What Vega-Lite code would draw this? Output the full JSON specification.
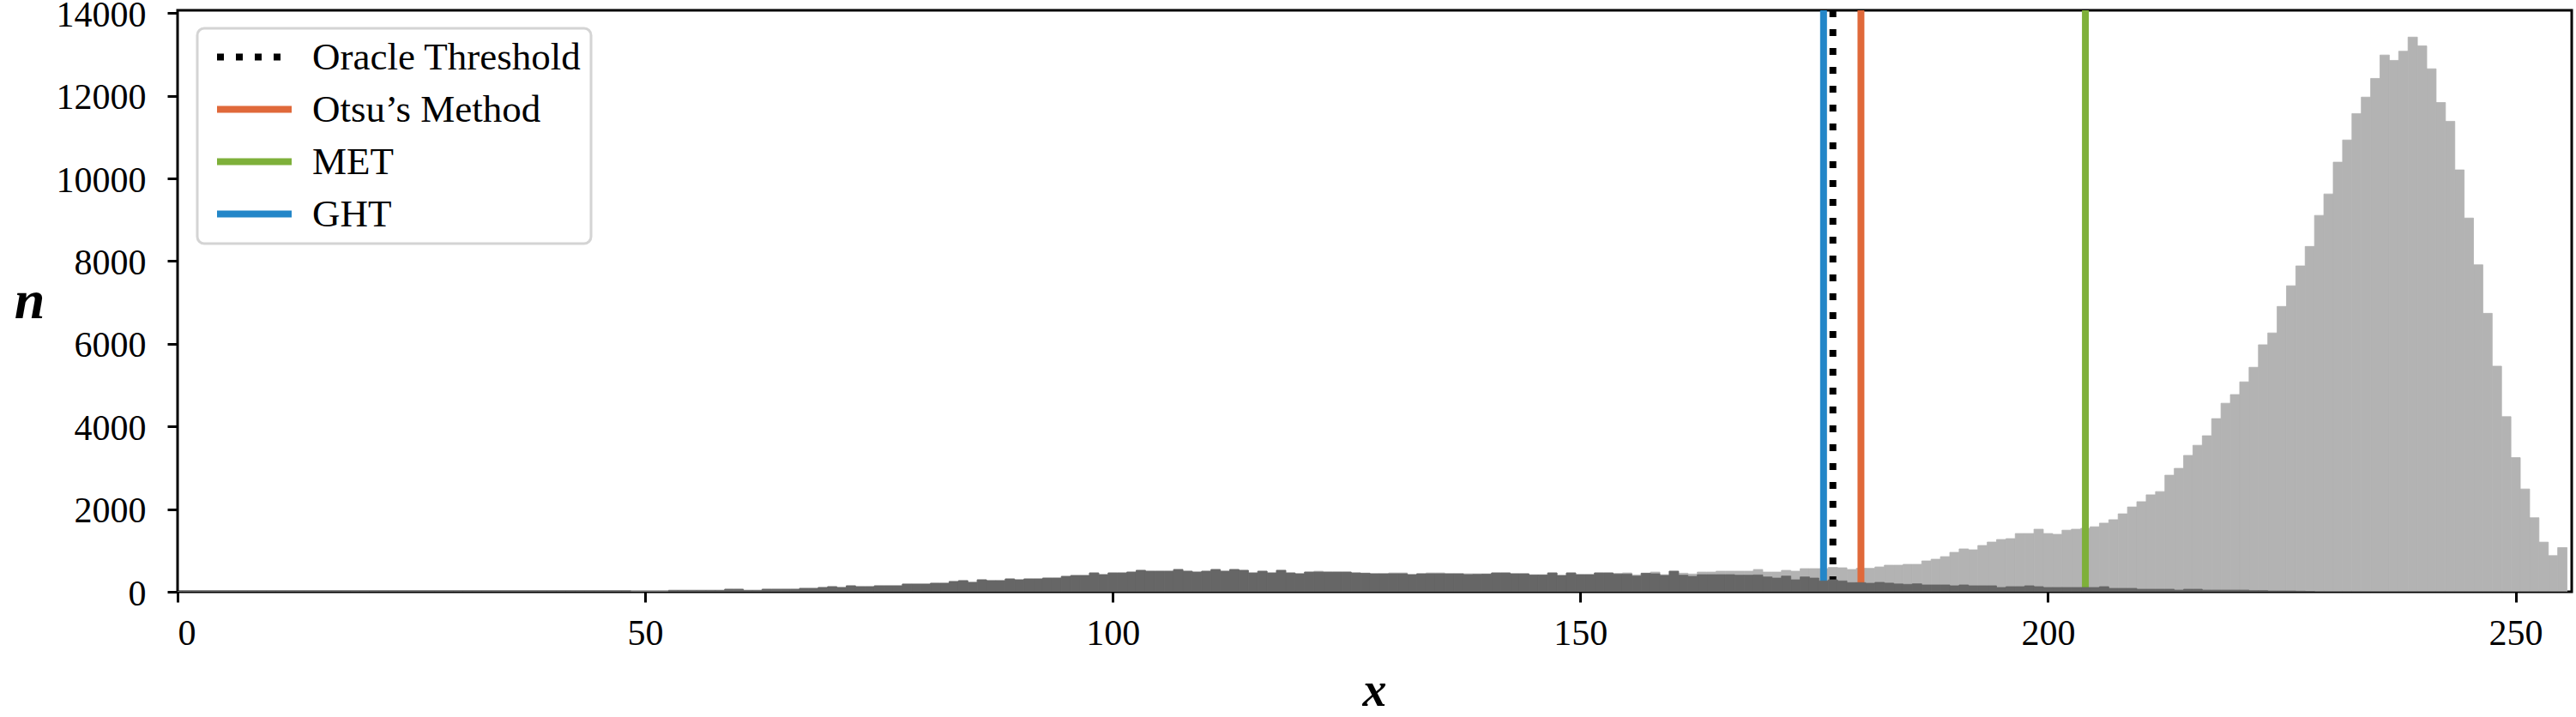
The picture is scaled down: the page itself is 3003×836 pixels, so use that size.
{
  "$schema": "https://vega.github.io/schema/vega-lite/v6.json",
  "width": 2791,
  "height": 678,
  "autosize": {"type": "none"},
  "padding": {"left": 207, "top": 12, "right": 5, "bottom": 146},
  "background": "white",
  "config": {
    "view": {"stroke": "black", "strokeWidth": 3},
    "font": "Liberation Serif",
    "axis": {
      "grid": false,
      "domain": false,
      "tickColor": "black",
      "tickWidth": 3,
      "tickSize": 12,
      "labelFont": "Liberation Serif",
      "labelFontSize": 42,
      "labelColor": "black",
      "titleFont": "Liberation Serif",
      "titleFontStyle": "italic",
      "titleFontWeight": "bold",
      "titleFontSize": 64,
      "titleColor": "black"
    },
    "legend": {
      "orient": "none",
      "legendX": 23,
      "legendY": 21,
      "symbolType": "M-2.9,0H2.9",
      "symbolSize": 900,
      "symbolStrokeWidth": 8,
      "symbolOffset": 33,
      "labelFont": "Liberation Serif",
      "labelFontSize": 45,
      "labelColor": "black",
      "labelOffset": 45,
      "labelLimit": 0,
      "fillColor": "white",
      "strokeColor": "#d4d4d4",
      "strokeWidth": 3,
      "cornerRadius": 8,
      "padding": 11,
      "rowPadding": 15
    }
  },
  "datasets": {
    "hist": [
      {"x":0,"light":0,"dark":0},{"x":1,"light":0,"dark":0},{"x":2,"light":0,"dark":0},{"x":3,"light":0,"dark":0},{"x":4,"light":0,"dark":0},{"x":5,"light":0,"dark":0},{"x":6,"light":0,"dark":0},{"x":7,"light":0,"dark":0},{"x":8,"light":0,"dark":0},{"x":9,"light":0,"dark":0},
      {"x":10,"light":0,"dark":0},{"x":11,"light":0,"dark":0},{"x":12,"light":0,"dark":0},{"x":13,"light":0,"dark":0},{"x":14,"light":0,"dark":0},{"x":15,"light":0,"dark":0},{"x":16,"light":0,"dark":0},{"x":17,"light":0,"dark":0},{"x":18,"light":0,"dark":0},{"x":19,"light":0,"dark":0},
      {"x":20,"light":0,"dark":0},{"x":21,"light":0,"dark":0},{"x":22,"light":0,"dark":0},{"x":23,"light":0,"dark":0},{"x":24,"light":0,"dark":0},{"x":25,"light":0,"dark":0},{"x":26,"light":0,"dark":0},{"x":27,"light":0,"dark":0},{"x":28,"light":0,"dark":0},{"x":29,"light":0,"dark":0},
      {"x":30,"light":0,"dark":0},{"x":31,"light":0,"dark":0},{"x":32,"light":0,"dark":0},{"x":33,"light":0,"dark":0},{"x":34,"light":0,"dark":0},{"x":35,"light":0,"dark":0},{"x":36,"light":0,"dark":0},{"x":37,"light":0,"dark":0},{"x":38,"light":0,"dark":0},{"x":39,"light":0,"dark":0},
      {"x":40,"light":0,"dark":0},{"x":41,"light":0,"dark":0},{"x":42,"light":0,"dark":0},{"x":43,"light":0,"dark":0},{"x":44,"light":0,"dark":0},{"x":45,"light":0,"dark":0},{"x":46,"light":0,"dark":0},{"x":47,"light":0,"dark":0},{"x":48,"light":0,"dark":0},{"x":49,"light":28,"dark":0},
      {"x":50,"light":28,"dark":0},{"x":51,"light":28,"dark":0},{"x":52,"light":28,"dark":0},{"x":53,"light":35,"dark":35},{"x":54,"light":35,"dark":35},{"x":55,"light":35,"dark":35},{"x":56,"light":35,"dark":35},{"x":57,"light":35,"dark":35},{"x":58,"light":35,"dark":35},{"x":59,"light":62,"dark":62},
      {"x":60,"light":62,"dark":62},{"x":61,"light":35,"dark":35},{"x":62,"light":35,"dark":35},{"x":63,"light":62,"dark":62},{"x":64,"light":62,"dark":62},{"x":65,"light":62,"dark":62},{"x":66,"light":62,"dark":62},{"x":67,"light":83,"dark":83},{"x":68,"light":83,"dark":83},{"x":69,"light":104,"dark":104},
      {"x":70,"light":124,"dark":124},{"x":71,"light":104,"dark":104},{"x":72,"light":145,"dark":145},{"x":73,"light":124,"dark":124},{"x":74,"light":124,"dark":124},{"x":75,"light":145,"dark":145},{"x":76,"light":145,"dark":145},{"x":77,"light":145,"dark":145},{"x":78,"light":187,"dark":187},{"x":79,"light":187,"dark":187},
      {"x":80,"light":187,"dark":187},{"x":81,"light":207,"dark":207},{"x":82,"light":207,"dark":207},{"x":83,"light":249,"dark":249},{"x":84,"light":270,"dark":270},{"x":85,"light":228,"dark":228},{"x":86,"light":290,"dark":290},{"x":87,"light":270,"dark":270},{"x":88,"light":270,"dark":270},{"x":89,"light":311,"dark":311},
      {"x":90,"light":290,"dark":290},{"x":91,"light":311,"dark":311},{"x":92,"light":311,"dark":311},{"x":93,"light":332,"dark":332},{"x":94,"light":332,"dark":332},{"x":95,"light":373,"dark":373},{"x":96,"light":394,"dark":394},{"x":97,"light":394,"dark":394},{"x":98,"light":456,"dark":456},{"x":99,"light":415,"dark":415},
      {"x":100,"light":456,"dark":456},{"x":101,"light":456,"dark":456},{"x":102,"light":477,"dark":477},{"x":103,"light":519,"dark":519},{"x":104,"light":498,"dark":498},{"x":105,"light":498,"dark":498},{"x":106,"light":498,"dark":498},{"x":107,"light":539,"dark":539},{"x":108,"light":498,"dark":498},{"x":109,"light":477,"dark":477},
      {"x":110,"light":498,"dark":498},{"x":111,"light":539,"dark":539},{"x":112,"light":498,"dark":498},{"x":113,"light":539,"dark":539},{"x":114,"light":519,"dark":519},{"x":115,"light":456,"dark":456},{"x":116,"light":498,"dark":498},{"x":117,"light":456,"dark":456},{"x":118,"light":519,"dark":519},{"x":119,"light":456,"dark":456},
      {"x":120,"light":436,"dark":436},{"x":121,"light":477,"dark":477},{"x":122,"light":498,"dark":477},{"x":123,"light":477,"dark":477},{"x":124,"light":477,"dark":477},{"x":125,"light":477,"dark":477},{"x":126,"light":456,"dark":456},{"x":127,"light":449,"dark":449},{"x":128,"light":436,"dark":436},{"x":129,"light":436,"dark":436},
      {"x":130,"light":456,"dark":436},{"x":131,"light":456,"dark":436},{"x":132,"light":415,"dark":415},{"x":133,"light":436,"dark":436},{"x":134,"light":456,"dark":436},{"x":135,"light":456,"dark":436},{"x":136,"light":436,"dark":436},{"x":137,"light":436,"dark":436},{"x":138,"light":436,"dark":415},{"x":139,"light":436,"dark":420},
      {"x":140,"light":429,"dark":429},{"x":141,"light":456,"dark":456},{"x":142,"light":456,"dark":456},{"x":143,"light":436,"dark":436},{"x":144,"light":436,"dark":436},{"x":145,"light":408,"dark":408},{"x":146,"light":408,"dark":408},{"x":147,"light":456,"dark":456},{"x":148,"light":394,"dark":394},{"x":149,"light":456,"dark":456},
      {"x":150,"light":415,"dark":415},{"x":151,"light":415,"dark":415},{"x":152,"light":456,"dark":456},{"x":153,"light":456,"dark":456},{"x":154,"light":443,"dark":429},{"x":155,"light":456,"dark":429},{"x":156,"light":408,"dark":380},{"x":157,"light":449,"dark":449},{"x":158,"light":477,"dark":436},{"x":159,"light":415,"dark":394},
      {"x":160,"light":498,"dark":498},{"x":161,"light":449,"dark":401},{"x":162,"light":429,"dark":373},{"x":163,"light":477,"dark":415},{"x":164,"light":477,"dark":415},{"x":165,"light":498,"dark":415},{"x":166,"light":498,"dark":415},{"x":167,"light":498,"dark":401},{"x":168,"light":498,"dark":401},{"x":169,"light":539,"dark":408},
      {"x":170,"light":477,"dark":359},{"x":171,"light":477,"dark":332},{"x":172,"light":519,"dark":380},{"x":173,"light":498,"dark":290},{"x":174,"light":560,"dark":359},{"x":175,"light":560,"dark":332},{"x":176,"light":560,"dark":263},{"x":177,"light":588,"dark":290},{"x":178,"light":581,"dark":263},{"x":179,"light":539,"dark":221},
      {"x":180,"light":567,"dark":221},{"x":181,"light":567,"dark":207},{"x":182,"light":601,"dark":228},{"x":183,"light":643,"dark":210},{"x":184,"light":643,"dark":190},{"x":185,"light":664,"dark":180},{"x":186,"light":664,"dark":193},{"x":187,"light":747,"dark":166},{"x":188,"light":788,"dark":166},{"x":189,"light":850,"dark":166},
      {"x":190,"light":954,"dark":145},{"x":191,"light":1037,"dark":166},{"x":192,"light":1016,"dark":145},{"x":193,"light":1120,"dark":145},{"x":194,"light":1203,"dark":145},{"x":195,"light":1265,"dark":104},{"x":196,"light":1286,"dark":124},{"x":197,"light":1410,"dark":124},{"x":198,"light":1410,"dark":145},{"x":199,"light":1514,"dark":124},
      {"x":200,"light":1410,"dark":104},{"x":201,"light":1390,"dark":104},{"x":202,"light":1490,"dark":104},{"x":203,"light":1514,"dark":104},{"x":204,"light":1535,"dark":104},{"x":205,"light":1573,"dark":104},{"x":206,"light":1661,"dark":124},{"x":207,"light":1744,"dark":83},{"x":208,"light":1886,"dark":83},{"x":209,"light":2052,"dark":83},
      {"x":210,"light":2180,"dark":62},{"x":211,"light":2346,"dark":62},{"x":212,"light":2425,"dark":62},{"x":213,"light":2821,"dark":62},{"x":214,"light":2987,"dark":41},{"x":215,"light":3300,"dark":62},{"x":216,"light":3545,"dark":62},{"x":217,"light":3775,"dark":41},{"x":218,"light":4190,"dark":41},{"x":219,"light":4562,"dark":41},
      {"x":220,"light":4772,"dark":41},{"x":221,"light":5080,"dark":41},{"x":222,"light":5432,"dark":30},{"x":223,"light":5977,"dark":30},{"x":224,"light":6263,"dark":20},{"x":225,"light":6904,"dark":20},{"x":226,"light":7404,"dark":20},{"x":227,"light":7885,"dark":15},{"x":228,"light":8356,"dark":10},{"x":229,"light":9107,"dark":0},
      {"x":230,"light":9626,"dark":0},{"x":231,"light":10395,"dark":0},{"x":232,"light":10932,"dark":0},{"x":233,"light":11571,"dark":0},{"x":234,"light":11969,"dark":0},{"x":235,"light":12421,"dark":0},{"x":236,"light":12987,"dark":0},{"x":237,"light":12857,"dark":0},{"x":238,"light":13079,"dark":0},{"x":239,"light":13421,"dark":0},
      {"x":240,"light":13209,"dark":0},{"x":241,"light":12654,"dark":0},{"x":242,"light":11838,"dark":0},{"x":243,"light":11384,"dark":0},{"x":244,"light":10208,"dark":0},{"x":245,"light":9043,"dark":0},{"x":246,"light":7912,"dark":0},{"x":247,"light":6737,"dark":0},{"x":248,"light":5459,"dark":0},{"x":249,"light":4237,"dark":0},
      {"x":250,"light":3246,"dark":0},{"x":251,"light":2487,"dark":0},{"x":252,"light":1792,"dark":0},{"x":253,"light":1201,"dark":0},{"x":254,"light":875,"dark":0},{"x":255,"light":1070,"dark":0}
    ],
    "thresholds": [
      {"method": "Oracle Threshold", "t": 177},
      {"method": "Otsu’s Method", "t": 180},
      {"method": "MET", "t": 204},
      {"method": "GHT", "t": 176}
    ]
  },
  "layer": [
    {
      "data": {"name": "hist"},
      "transform": [
        {"calculate": "datum.x - 0.5", "as": "x0"},
        {"calculate": "datum.x + 0.5", "as": "x1"}
      ],
      "mark": {"type": "rect", "color": "#b3b3b3", "stroke": "#b3b3b3", "strokeWidth": 0.8, "clip": true},
      "encoding": {
        "x": {
          "field": "x0",
          "type": "quantitative",
          "scale": {"domain": [0, 256], "nice": false, "zero": false},
          "axis": {"values": [0, 50, 100, 150, 200, 250], "title": "x", "labelPadding": 16, "titleFontSize": 56, "titleBaseline": "alphabetic", "titleY": 132, "titleX": 1395, "titleAlign": "center"}
        },
        "x2": {"field": "x1"},
        "y": {
          "field": "light",
          "type": "quantitative",
          "scale": {"domain": [0, 14070], "nice": false},
          "axis": {"values": [0, 2000, 4000, 6000, 8000, 10000, 12000, 14000], "format": "d", "title": "n", "labelPadding": 25, "labelOffset": 2, "titleAngle": 0, "titleX": -173, "titleY": 339, "titleAlign": "center", "titleBaseline": "middle"}
        },
        "y2": {"datum": 0}
      }
    },
    {
      "data": {"name": "thresholds"},
      "mark": {"type": "rule", "strokeWidth": 8, "strokeCap": "butt"},
      "encoding": {
        "x": {"field": "t", "type": "quantitative"},
        "color": {
          "field": "method",
          "type": "nominal",
          "scale": {"domain": ["Oracle Threshold", "Otsu’s Method", "MET", "GHT"], "range": ["#000000", "#e0693a", "#7eb03a", "#2386c8"]},
          "legend": {"title": null}
        },
        "strokeDash": {
          "field": "method",
          "type": "nominal",
          "scale": {"domain": ["Oracle Threshold", "Otsu’s Method", "MET", "GHT"], "range": [[8, 14], [1, 0], [1, 0], [1, 0]]},
          "legend": {"title": null}
        }
      }
    },
    {
      "data": {"name": "hist"},
      "transform": [
        {"calculate": "datum.x - 0.5", "as": "x0"},
        {"calculate": "datum.x + 0.5", "as": "x1"}
      ],
      "mark": {"type": "rect", "color": "#666666", "stroke": "#666666", "strokeWidth": 0.8, "clip": true},
      "encoding": {
        "x": {"field": "x0", "type": "quantitative"},
        "x2": {"field": "x1"},
        "y": {"field": "dark", "type": "quantitative"},
        "y2": {"datum": 0}
      }
    }
  ]
}
